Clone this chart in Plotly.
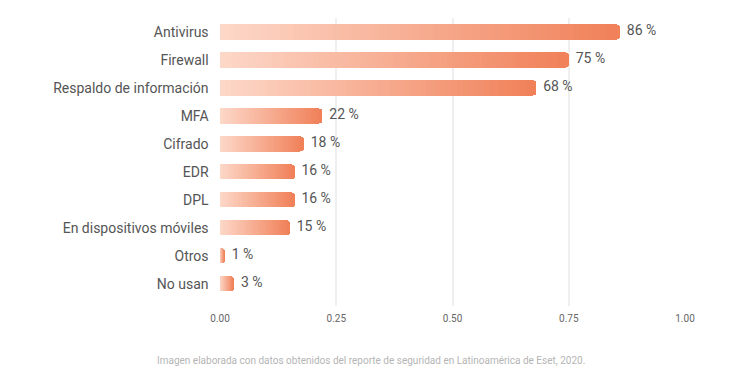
import plotly.graph_objects as go

categories = ["Antivirus", "Firewall", "Respaldo de información", "MFA", "Cifrado",
              "EDR", "DPL", "En dispositivos móviles", "Otros", "No usan"]
values = [0.86, 0.75, 0.68, 0.22, 0.18, 0.16, 0.16, 0.15, 0.01, 0.03]
value_labels = ["86 %", "75 %", "68 %", "22 %", "18 %", "16 %", "16 %", "15 %", "1 %", "3 %"]
tick_vals = [0, 0.25, 0.5, 0.75, 1.0]
tick_text = ["0.00", "0.25", "0.50", "0.75", "1.00"]
caption = "Imagen elaborada con datos obtenidos del reporte de seguridad en Latinoamérica de Eset, 2020."

c0 = (253, 216, 201)
c1 = (240, 128, 88)
N = 60

fig = go.Figure()
for k in range(N):
    t = (k + 0.5) / N
    col = "rgb(%d,%d,%d)" % tuple(round(a + (b - a) * t) for a, b in zip(c0, c1))
    fig.add_trace(go.Bar(
        y=categories, x=[v / N for v in values], orientation="h",
        marker=dict(color=col, line=dict(width=0)),
        hoverinfo="skip", showlegend=False,
    ))

fig.add_trace(go.Scatter(
    y=categories, x=values, mode="text", text=["  " + s for s in value_labels],
    textposition="middle right",
    textfont=dict(family="Roboto", size=14, color="#555555"),
    showlegend=False, hoverinfo="skip", cliponaxis=False,
))

fig.update_layout(
    width=732, height=371,
    barmode="stack", bargap=0.46, barcornerradius=3,
    plot_bgcolor="white", paper_bgcolor="white",
    margin=dict(l=212, r=55, t=10, b=73),
    font=dict(family="Roboto", color="#555555"),
    xaxis=dict(range=[-0.0001, 1.0], tickvals=tick_vals, ticktext=tick_text,
               showgrid=True, gridcolor="#efefef", gridwidth=2,
               zeroline=False, showline=False, ticklabelstandoff=5,
               tickfont=dict(size=10, color="#666666"), ticks="", ticklen=0),
    yaxis=dict(categoryorder="array", categoryarray=categories, range=[9.79, -0.5],
               showgrid=False, zeroline=False, showline=False, ticks="",
               ticksuffix="   ", tickfont=dict(size=14, color="#555555")),
    annotations=[dict(text=caption, xref="paper", yref="paper", x=0.5, y=0,
                      xanchor="center", yanchor="top", yshift=-47, showarrow=False,
                      xshift=-82,
                      font=dict(family="Roboto", size=10, color="#b5b5b5"))],
)
fig.write_html("out.html")
